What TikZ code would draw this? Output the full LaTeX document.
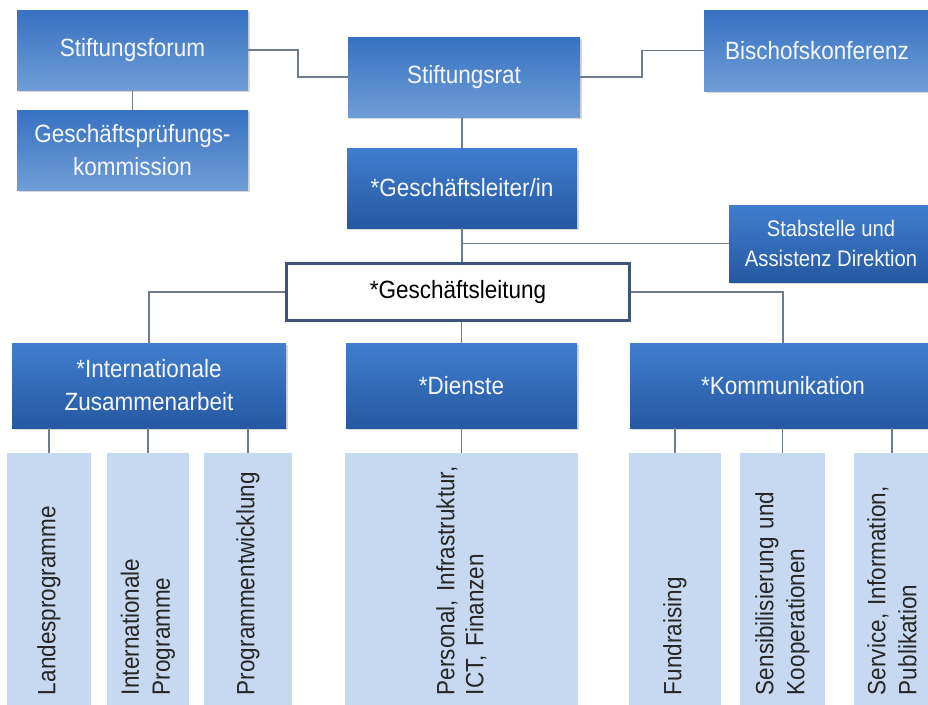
\documentclass[tikz,border=0pt]{standalone}
\usepackage{fontspec}
\setmainfont{Liberation Sans}[FakeStretch=0.9]
\usetikzlibrary{positioning}
\usetikzlibrary{calc}
\usetikzlibrary{shadows}
\definecolor{topa}{RGB}{55,113,194}
\definecolor{bota}{RGB}{112,157,215}
\definecolor{topb}{RGB}{64,126,206}
\definecolor{botb}{RGB}{38,88,162}
\definecolor{pale}{RGB}{198,217,240}
\definecolor{rim}{RGB}{59,84,120}
\definecolor{wirec}{RGB}{110,124,142}
\definecolor{ink}{RGB}{244,247,252}

\begin{document}
\begin{tikzpicture}
	[x=1pt,y=-1pt,every node/.style={inner sep=0pt,align=center,font=\fontsize{25}{33}\selectfont},
	 upper/.style={rectangle,top color=topa,bottom color=bota,text=ink,drop shadow={shadow xshift=2pt,shadow yshift=-2pt,opacity=0.3}},
	 lower/.style={rectangle,top color=topb,bottom color=botb,text=ink,drop shadow={shadow xshift=2pt,shadow yshift=-2pt,opacity=0.3}},
	 leaf/.style={rectangle,fill=pale,rotate=90,align=left,text width=225pt,inner xsep=17pt,text={black!85},font=\fontsize{25}{31}\selectfont},
	 wire/.style={line width=1.2pt,color=wirec}]
	\useasboundingbox (0,0) rectangle (928,704);
	\node (1) [upper, minimum width=231pt, minimum height=80pt] at (132.5, 50) {Stiftungsforum};
	\node (2) [upper, minimum width=231pt, minimum height=80pt] at (132.5, 150) {Geschäftsprüfungs-\\kommission};
	\node (3) [upper, minimum width=232pt, minimum height=80pt] at (464, 77) {Stiftungsrat};
	\node (4) [upper, minimum width=226pt, minimum height=81pt] at (817, 50.5) {Bischofskonferenz};
	\node (5) [lower, minimum width=230pt, minimum height=80pt] at (462, 188) {*Geschäftsleiter/in};
	\node (6) [lower, minimum width=204pt, minimum height=77pt, font=\fontsize{22.5}{30}\selectfont] at (831, 243.5) {Stabstelle und\\Assistenz Direktion};
	\node (7) [rectangle, draw=rim, line width=3pt, fill=white, minimum width=343pt, minimum height=57pt] at (458, 292) {*Geschäftsleitung};
	\node (8) [lower, minimum width=274pt, minimum height=85pt] at (149, 385.5) {*Internationale\\Zusammenarbeit};
	\node (9) [lower, minimum width=231pt, minimum height=85pt] at (461.5, 385.5) {*Dienste};
	\node (10) [lower, minimum width=306pt, minimum height=85pt] at (783, 385.5) {*Kommunikation};
	\node (11) [leaf, minimum height=84pt] at (49, 582.5) {Landesprogramme};
	\node (12) [leaf, minimum height=82pt] at (148, 582.5) {Internationale\\Programme};
	\node (13) [leaf, minimum height=88pt] at (248, 582.5) {Programmentwicklung};
	\node (14) [leaf, minimum height=233pt, font=\fontsize{25}{29}\selectfont] at (461.5, 582.5) {\mbox{Personal, Infrastruktur,}\\ICT, Finanzen};
	\node (15) [leaf, minimum height=92pt] at (675, 582.5) {Fundraising};
	\node (16) [leaf, minimum height=85pt] at (782.5, 582.5) {\mbox{Sensibilisierung und}\\Kooperationen};
	\node (17) [leaf, minimum height=76pt] at (892, 582.5) {\mbox{Service, Information,}\\Publikation};
	\draw [wire] (1.east) -| ($(1.east)!0.5!(3.west)$) |- (3.west);
	\draw [wire] (3.east) -| ($(3.east)!0.5!(4.west)$) |- (4.west);
	\draw [wire] (1.south) -- (2.north);
	\draw [wire] (5.north) -- (5.north |- 3.south);
	\draw [wire] (5.south) -- (5.south |- 7.north);
	\draw [wire] (6.west) -- (6.west -| 5.south);
	\draw [wire] (7.west) -| (8.north);
	\draw [wire] (7.east) -| (10.north);
	\draw [wire] (9.north) -- (9.north |- 7.south);
	\foreach \a/\b in {11/8,12/8,13/8,14/9,15/10,16/10,17/10}
		\draw [wire] (\a.east) -- (\a.east |- \b.south);
\end{tikzpicture}
\end{document}
